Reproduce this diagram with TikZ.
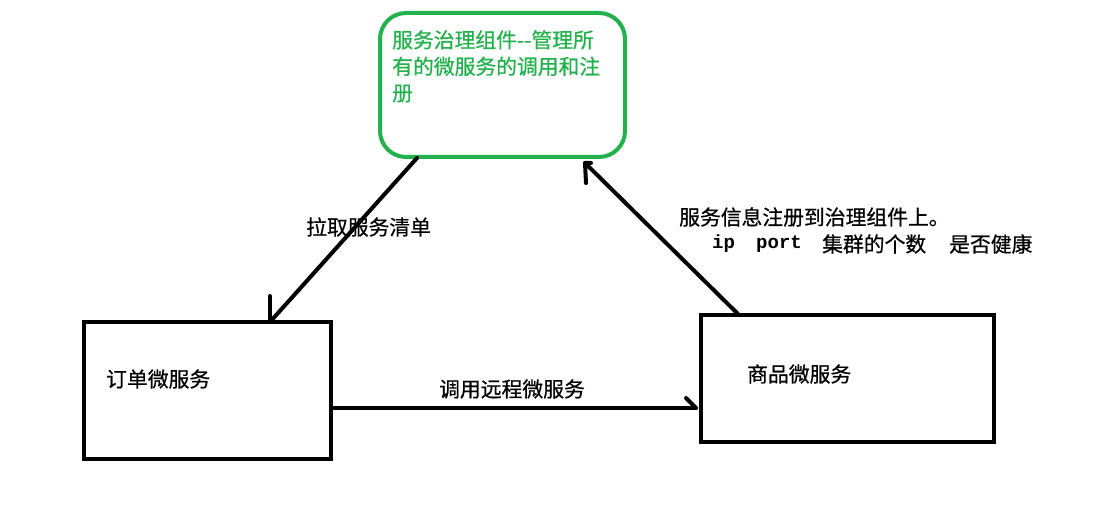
\documentclass[tikz,border=0pt]{standalone}
\usepackage{fontspec}
\usetikzlibrary{calc}
\newfontfamily\cjk[FakeBold=0.6]{Noto Sans CJK SC}
\newfontfamily\monof{Liberation Mono}
\definecolor{pgreen}{RGB}{34,177,76}
\begin{document}
\begin{tikzpicture}[x=1pt,y=-1pt,
  box/.style={draw=black,line width=4pt,inner sep=0pt},
  gbox/.style={draw=pgreen,line width=4pt,rounded corners=26pt,inner sep=0pt},
  lbl/.style={inner sep=0pt,anchor=west,font=\cjk\fontsize{20.8}{26.5}\selectfont},
  mono/.style={inner sep=0pt,anchor=west,font=\monof\bfseries\fontsize{19}{20}\selectfont},
  conn/.style={line width=4pt,line cap=round,line join=round}]
\useasboundingbox (0,0) rectangle (1110,526);
\fill[white] (0,0) rectangle (1110,526);
% boxes
\node[gbox,minimum width=245pt,minimum height=144pt] (gov) at (502.5,85) {};
\node[box,minimum width=247pt,minimum height=137pt] (order) at (207.5,390.5) {};
\node[box,minimum width=293pt,minimum height=127pt] (goods) at (847.5,378.5) {};
% texts
\node[lbl,text=pgreen,align=left,anchor=north west] (govtxt) at (392,30) {服务治理组件{-}{-}管理所\\有的微服务的调用和注\\册};
\node[lbl] (ordertxt) at (106,379) {订单微服务};
\node[lbl] (goodstxt) at (747,374) {商品微服务};
\node[lbl] (pull) at (306,227) {拉取服务清单};
\node[lbl] (reg1) at (679,217) {服务信息注册到治理组件上。};
\node[mono] (ip) at (712,244) {ip};
\node[mono] (port) at (756,244) {port};
\node[lbl] (clu) at (822,244) {集群的个数};
\node[lbl] (health) at (949,244) {是否健康};
\node[lbl] (call) at (439,389) {调用远程微服务};
% connectors
\coordinate (t1) at (270,322);
\coordinate (s1) at (417,158);
\draw[conn] (s1) -- (t1);
\draw[conn] ($(t1)+(0,-26)$) -- (t1) -- ++(20,0);
\coordinate (s2) at (738,314);
\coordinate (t2) at (585,163);
\draw[conn] (s2) -- (t2);
\draw[conn] ($(t2)+(1,20)$) -- (t2) -- ++(6,0);
\coordinate (s3) at (331,408);
\coordinate (t3) at (696,408);
\draw[conn] (s3) -- (t3);
\draw[conn] ($(t3)+(-10,-10)$) -- (t3);
\end{tikzpicture}
\end{document}
